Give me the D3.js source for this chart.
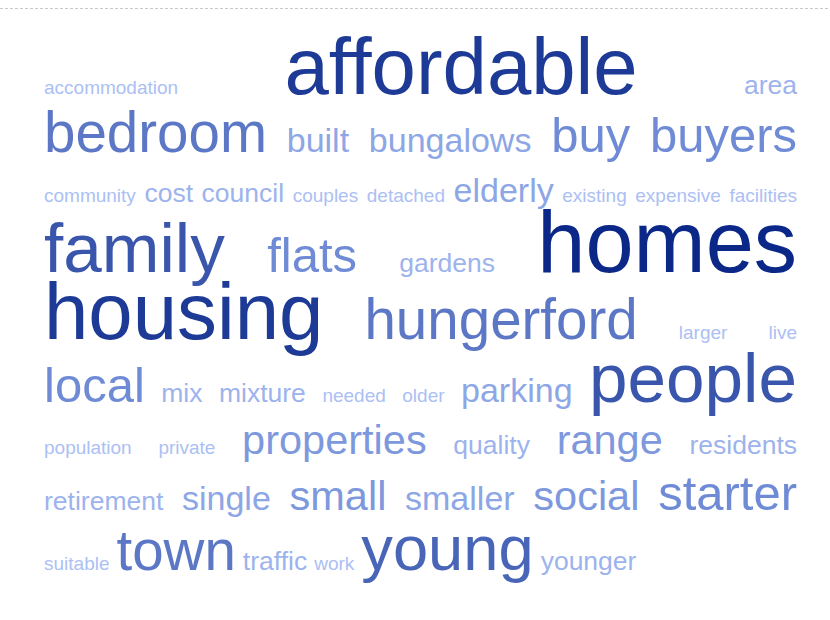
<!DOCTYPE html>
<html>
<head>
<meta charset="utf-8">
<script src="https://cdn.jsdelivr.net/npm/d3@7.9.0/dist/d3.min.js"></script>
<style>
  body { margin: 0; background: #fff; }
  svg { display: block; font-family: "Liberation Sans", Arial, Helvetica, sans-serif; }
</style>
</head>
<body>
<svg id="cloud" width="830" height="620"></svg>
<script>
// words in alphabetical order, with their (estimated) frequencies
const words = [
  "accommodation", "affordable", "area",
  "bedroom", "built", "bungalows", "buy", "buyers",
  "community", "cost", "council", "couples", "detached", "elderly", "existing", "expensive", "facilities",
  "family", "flats", "gardens", "homes",
  "housing", "hungerford", "larger", "live",
  "local", "mix", "mixture", "needed", "older", "parking", "people",
  "population", "private", "properties", "quality", "range", "residents",
  "retirement", "single", "small", "smaller", "social", "starter",
  "suitable", "town", "traffic", "work", "young", "younger"
];
const freqs = [
  1, 9.1, 2,
  6, 3, 3, 5, 5,
  1, 2, 2, 1, 1, 3, 1, 1, 1,
  7.7, 5, 2, 10,
  9.1, 6, 1, 1,
  5, 2, 2, 1, 1, 3, 7.7,
  1, 1, 4, 2, 4, 2,
  2, 3, 4, 3, 4, 5,
  1, 6, 2, 1, 6.9, 2
];

const width = 830;
const left = 44, right = 797;
const minGap = 8;   // smallest gap allowed when filling a row
const lastGap = 7;  // gap used on the final (unjustified) row

const size = d3.scaleLinear().domain([1, 10]).range([19, 86.5]);
const color = d3.scaleLinear().domain([1, 5, 10]).range(["#abc0f4", "#6f8bd6", "#0b2888"]);

const svg = d3.select("#cloud");

// dashed rule along the top
svg.append("line")
  .attr("x1", 0).attr("x2", width)
  .attr("y1", 8.5).attr("y2", 8.5)
  .attr("stroke", "#c8c8c8")
  .attr("stroke-dasharray", "3,2");

const data = words.map((w, i) => ({ word: w, freq: freqs[i], size: size(freqs[i]) }));

// draw once to measure widths
const texts = svg.selectAll("text.word")
  .data(data)
  .join("text")
  .attr("class", "word")
  .attr("font-size", d => d.size)
  .attr("fill", d => color(d.freq))
  .text(d => d.word);

texts.each(function (d) { d.w = this.getComputedTextLength(); });

// greedy line breaking
const rows = [];
let cur = [], curW = 0;
data.forEach(d => {
  const need = curW + (cur.length ? minGap : 0) + d.w;
  if (cur.length && need > right - left) {
    rows.push(cur);
    cur = [d];
    curW = d.w;
  } else {
    cur.push(d);
    curW = need;
  }
});
if (cur.length) rows.push(cur);

// row baselines depend on the largest word in each row
const rowGap = m => 0.376 * m + 37;
let y = 27;
rows.forEach((row, ri) => {
  const maxSize = d3.max(row, d => d.size);
  y += rowGap(maxSize);
  const total = d3.sum(row, d => d.w);
  const last = ri === rows.length - 1;
  const gap = (last || row.length < 2) ? lastGap : (right - left - total) / (row.length - 1);
  let x = left;
  row.forEach(d => {
    d.x = x;
    d.y = y;
    x += d.w + gap;
  });
});

texts.attr("x", d => d.x).attr("y", d => d.y);
</script>
</body>
</html>
